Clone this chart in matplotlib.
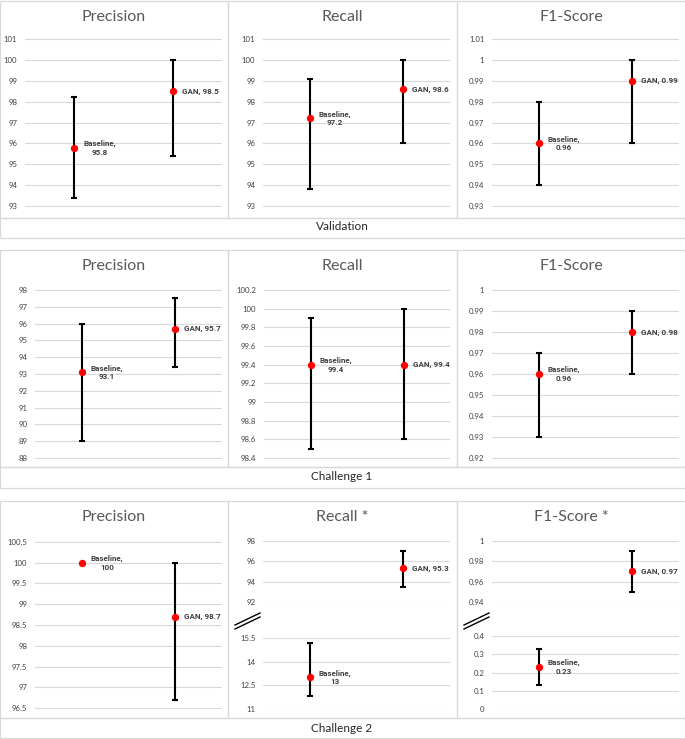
import matplotlib
matplotlib.use("Agg")
import matplotlib.pyplot as plt
from matplotlib.patches import Rectangle
from matplotlib.lines import Line2D
import numpy as np

plt.rcParams['font.family'] = ['Lato', 'DejaVu Sans']

models = ["Baseline", "GAN"]
row_names = ["Validation", "Challenge 1", "Challenge 2"]

# Validation: value, lower and upper whisker end for Baseline / GAN
val_precision = [95.8, 98.5]
val_precision_lo = [93.4, 95.4]
val_precision_hi = [98.2, 100.0]
val_recall = [97.2, 98.6]
val_recall_lo = [93.8, 96.0]
val_recall_hi = [99.1, 100.0]
val_f1 = [0.96, 0.99]
val_f1_lo = [0.94, 0.96]
val_f1_hi = [0.98, 1.00]

# Challenge 1
c1_precision = [93.1, 95.7]
c1_precision_lo = [89.0, 93.4]
c1_precision_hi = [96.0, 97.5]
c1_recall = [99.4, 99.4]
c1_recall_lo = [98.5, 98.6]
c1_recall_hi = [99.9, 100.0]
c1_f1 = [0.96, 0.98]
c1_f1_lo = [0.93, 0.96]
c1_f1_hi = [0.97, 0.99]

# Challenge 2 (baseline precision has no spread)
c2_precision = [100.0, 98.7]
c2_precision_lo = [100.0, 96.7]
c2_precision_hi = [100.0, 100.0]
c2_recall = [13.0, 95.3]
c2_recall_lo = [11.8, 93.5]
c2_recall_hi = [15.2, 97.0]
c2_f1 = [0.23, 0.97]
c2_f1_lo = [0.13, 0.95]
c2_f1_hi = [0.33, 0.99]

W, H = 685, 739
GRID = '#d9d9d9'
fig = plt.figure(figsize=(W / 100, H / 100), dpi=100)


def frac(x0, y0, x1, y1):
    # pixel box (top-left origin) -> figure fraction
    return [x0 / W, 1 - y1 / H, (x1 - x0) / W, (y1 - y0) / H]


def make_axis(box, lo, hi, step):
    ax = fig.add_axes(frac(*box))
    ticks = np.round(np.arange(lo, hi + step / 2, step), 4)
    pad = (hi - lo) * 0.006
    ax.set_ylim(lo - pad, hi + pad)
    ax.set_xlim(0, 2)
    ax.set_yticks(ticks)
    ax.set_yticklabels([f"{t:g}" for t in ticks])
    ax.set_xticks([])
    ax.grid(axis='y', color=GRID, lw=0.8)
    ax.set_axisbelow(True)
    for s in ax.spines.values():
        s.set_visible(False)
    ax.tick_params(axis='y', length=0, pad=5.5, labelsize=5.6, labelcolor='#404040')
    ax.patch.set_alpha(0)
    return ax


def draw_points(ax, which, vals, lo, hi):
    for i in which:
        x = i + 0.5
        if hi[i] > lo[i]:
            ax.errorbar(x, vals[i], yerr=[[vals[i] - lo[i]], [hi[i] - vals[i]]], fmt='none',
                        ecolor='black', elinewidth=1.5, capsize=2.3, capthick=1.5, zorder=3)
        ax.plot(x, vals[i], 'o', color='#ff0000', ms=5.3, mec='none', zorder=4)
        if i == 0:
            txt = f"{models[i]},\n{vals[i]:g}"
        else:
            txt = f"{models[i]}, {vals[i]:g}"
        ax.annotate(txt, (x, vals[i]), xytext=(6.5, 0), textcoords='offset points',
                    ha='left', va='center', multialignment='center', fontsize=5.8,
                    fontweight='bold', family=['Roboto', 'DejaVu Sans'], color='#404040',
                    linespacing=1.3)


def break_mark(x0, y0):
    for dy in (0, 4):
        fig.add_artist(Line2D([x0 / W, (x0 + 25) / W], [1 - (y0 + 12 + dy) / H, 1 - (y0 + dy) / H],
                              transform=fig.transFigure, color='black', lw=1.0))


cols = [(0, 228), (228, 457), (457, 685)]
panel_rows = [(1, 218), (250, 467), (501, 718)]
label_y = [227, 477, 728]
line_y = [238, 488, 738]
titles = [["Precision", "Recall", "F1-Score"],
          ["Precision", "Recall", "F1-Score"],
          ["Precision", "Recall *", "F1-Score *"]]

# panel frames, row labels and titles
for r in range(3):
    t, b = panel_rows[r]
    for c, (x0, x1) in enumerate(cols):
        fig.add_artist(Rectangle((x0 / W, 1 - b / H), (x1 - x0) / W, (b - t) / H,
                                 transform=fig.transFigure, fill=False, ec=GRID, lw=0.9))
        fig.text((x0 + x1) / 2 / W, 1 - (t + 16) / H, titles[r][c], ha='center', va='center',
                 fontsize=11.5, color='#595959')
    fig.add_artist(Rectangle((0, 1 - line_y[r] / H), 1, (line_y[r] - b) / H,
                             transform=fig.transFigure, fill=False, ec=GRID, lw=0.9))
    fig.text(342 / W, 1 - label_y[r] / H, row_names[r], ha='center', va='center',
             fontsize=8.5, color='#262626')

# Validation row
ax = make_axis((25, 38, 222, 207), 93, 101, 1)
draw_points(ax, [0, 1], val_precision, val_precision_lo, val_precision_hi)
ax = make_axis((263, 38, 450, 207), 93, 101, 1)
draw_points(ax, [0, 1], val_recall, val_recall_lo, val_recall_hi)
ax = make_axis((492, 38, 679, 207), 0.93, 1.01, 0.01)
draw_points(ax, [0, 1], val_f1, val_f1_lo, val_f1_hi)

# Challenge 1 row
ax = make_axis((35, 289, 222, 459), 88, 98, 1)
draw_points(ax, [0, 1], c1_precision, c1_precision_lo, c1_precision_hi)
ax = make_axis((264, 289, 450, 459), 98.4, 100.2, 0.2)
draw_points(ax, [0, 1], c1_recall, c1_recall_lo, c1_recall_hi)
ax = make_axis((492, 289, 679, 459), 0.92, 1.0, 0.01)
draw_points(ax, [0, 1], c1_f1, c1_f1_lo, c1_f1_hi)

# Challenge 2 row (recall and F1 use broken axes)
ax = make_axis((35, 541, 222, 709), 96.5, 100.5, 0.5)
draw_points(ax, [0, 1], c2_precision, c2_precision_lo, c2_precision_hi)

ax = make_axis((263, 541, 450, 602), 92, 98, 2)
draw_points(ax, [1], c2_recall, c2_recall_lo, c2_recall_hi)
ax = make_axis((263, 638, 450, 709), 11, 15.5, 1.5)
draw_points(ax, [0], c2_recall, c2_recall_lo, c2_recall_hi)
break_mark(235, 613)

ax = make_axis((492, 541, 679, 602), 0.94, 1.0, 0.02)
draw_points(ax, [1], c2_f1, c2_f1_lo, c2_f1_hi)
ax = make_axis((492, 636, 679, 709), 0.0, 0.4, 0.1)
draw_points(ax, [0], c2_f1, c2_f1_lo, c2_f1_hi)
break_mark(464, 613)

fig.savefig("out.png", dpi=100)
